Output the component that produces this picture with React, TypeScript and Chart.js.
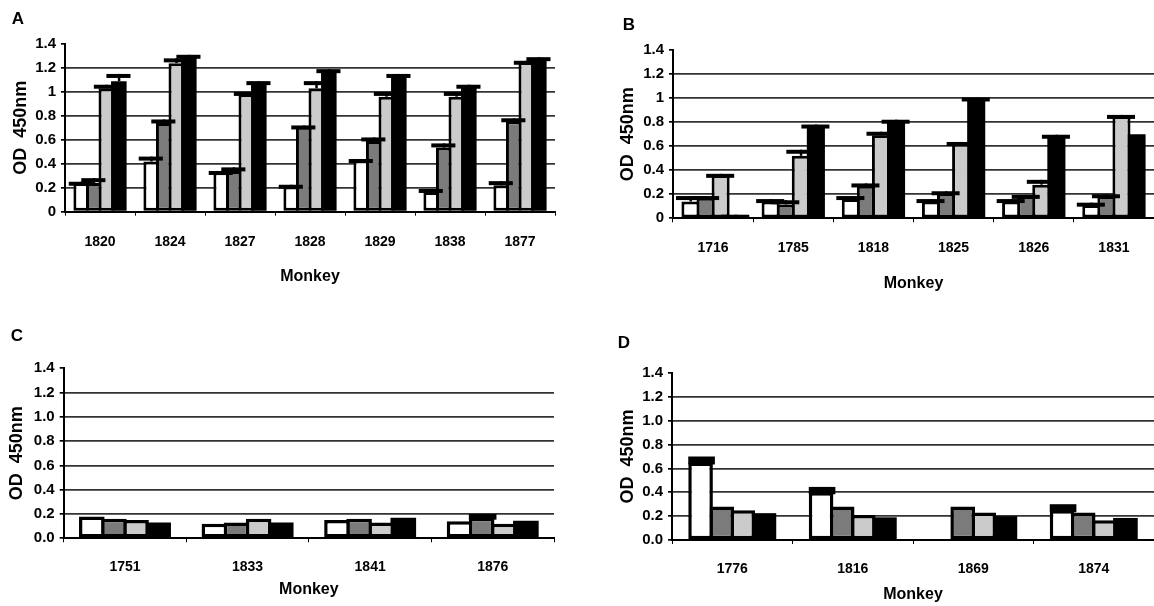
import React, { useEffect, useRef } from 'react';
import { Chart, registerables } from 'chart.js';

Chart.register(...registerables);

const FONT = "'Liberation Sans', Arial, Helvetica, sans-serif";
const SERIES_COLORS = ['#ffffff', '#7b7b7b', '#cbcbcb', '#000000'];
const SERIES_NAMES = ['Series 1', 'Series 2', 'Series 3', 'Series 4'];

// Y tick labels
const ticksAB = ['0', '0.2', '0.4', '0.6', '0.8', '1', '1.2', '1.4'];
const ticksCD = ['0.0', '0.2', '0.4', '0.6', '0.8', '1.0', '1.2', '1.4'];

// Panel A
const catsA = ['1820', '1824', '1827', '1828', '1829', '1838', '1877'];
const aWhite = [0.24, 0.42, 0.33, 0.21, 0.43, 0.165, 0.22];
const aDark = [0.24, 0.74, 0.34, 0.71, 0.59, 0.535, 0.755];
const aLight = [1.03, 1.24, 0.98, 1.03, 0.96, 0.96, 1.25];
const aBlack = [1.09, 1.29, 1.07, 1.18, 1.14, 1.05, 1.28];
const aWhiteErr = [0.01, 0.04, 0.01, 0.015, 0.01, 0.025, 0.035];
const aDarkErr = [0.04, 0.03, 0.03, 0.01, 0.03, 0.035, 0.025];
const aLightErr = [0.03, 0.04, 0.02, 0.06, 0.04, 0.04, 0.01];
const aBlackErr = [0.06, 0.02, 0.02, 0.01, 0.01, 0.01, 0.01];

// Panel B
const catsB = ['1716', '1785', '1818', '1825', '1826', '1831'];
const bWhite = [0.14, 0.14, 0.16, 0.14, 0.14, 0.11];
const bDark = [0.17, 0.115, 0.27, 0.21, 0.185, 0.185];
const bLight = [0.36, 0.52, 0.69, 0.62, 0.28, 0.85];
const bBlack = [0.02, 0.765, 0.81, 0.985, 0.68, 0.7];
const bWhiteErr = [0.045, 0.02, 0.025, 0.02, 0.02, 0.02];
const bDarkErr = [0.015, 0.035, 0.02, 0.015, 0.01, 0.015];
const bLightErr = [0.01, 0.05, 0.03, 0.015, 0.04, 0.01];
const bBlackErr = [0.01, 0.015, 0.01, 0.02, 0.015, 0];

// Panel C
const catsC = ['1751', '1833', '1841', '1876'];
const cWhite = [0.18, 0.12, 0.15, 0.14];
const cDark = [0.16, 0.13, 0.16, 0.17];
const cLight = [0.15, 0.16, 0.13, 0.12];
const cBlack = [0.13, 0.13, 0.17, 0.145];
const cWhiteErr = [0, 0, 0, 0];
const cDarkErr = [0, 0, 0, 0.03];
const cLightErr = [0, 0, 0, 0];
const cBlackErr = [0, 0, 0, 0];

// Panel D
const catsD = ['1776', '1816', '1869', '1874'];
const dWhite = [0.65, 0.4, null, 0.25];
const dDark = [0.28, 0.28, 0.28, 0.23];
const dLight = [0.25, 0.21, 0.23, 0.165];
const dBlack = [0.225, 0.19, 0.2, 0.185];
const dWhiteErr = [0.05, 0.045, 0, 0.05];
const dDarkErr = [0, 0, 0, 0];
const dLightErr = [0, 0, 0, 0];
const dBlackErr = [0, 0, 0, 0];

const errorPlugin = {
  id: 'errCaps',
  afterDatasetsDraw(chart: any, _args: any, opts: any) {
    const { ctx } = chart;
    const y = chart.scales.y;
    const style = opts && opts.style ? opts.style : 'tee';
    chart.data.datasets.forEach((ds: any, i: number) => {
      const errs = ds.errors;
      if (!errs) return;
      const meta = chart.getDatasetMeta(i);
      meta.data.forEach((bar: any, j: number) => {
        const v = ds.data[j];
        const e = errs[j];
        if (v == null || !e) return;
        const p = bar.getProps(['x', 'y', 'width'], true);
        const top = y.getPixelForValue(v + e);
        const barTop = p.y;
        const w = p.width;
        ctx.save();
        ctx.fillStyle = '#000';
        if (style === 'tee') {
          ctx.fillRect(p.x - 1, top, 2.5, Math.max(0, barTop - top));
          ctx.fillRect(p.x - 0.8 * w, top, 1.55 * w, 4);
        } else {
          ctx.fillRect(p.x - w / 2, top, w + 2, Math.max(0, barTop - top) + 2);
        }
        ctx.restore();
      });
    });
  },
};

type PanelCfg = {
  letter: string;
  letterX: number;
  letterY: number;
  left: number;
  top: number;
  width: number;
  height: number;
  cats: string[];
  series: (number | null)[][];
  errors: number[][];
  tickLabels: string[];
  padTop: number;
  padRight: number;
  yWidth: number;
  yTitlePad: number;
  xHeight: number;
  xTickPad: number;
  xTitlePadBottom: number;
  catWidth: number; // approx. pixel width of one category
  groupFrac: number; // fraction of category covered by the bar group
  borderW: number;
  errStyle: string;
};

const panels: PanelCfg[] = [
  {
    letter: 'A', letterX: 18, letterY: 18, left: 0, top: 0, width: 577, height: 300,
    cats: catsA, series: [aWhite, aDark, aLight, aBlack],
    errors: [aWhiteErr, aDarkErr, aLightErr, aBlackErr], tickLabels: ticksAB,
    padTop: 44, padRight: 22, yWidth: 65, yTitlePad: 10, xHeight: 88.3, xTickPad: 18,
    xTitlePadBottom: 13.7, catWidth: 70, groupFrac: 0.76, borderW: 3, errStyle: 'tee',
  },
  {
    letter: 'B', letterX: 629, letterY: 24, left: 577, top: 0, width: 577, height: 300,
    cats: catsB, series: [bWhite, bDark, bLight, bBlack],
    errors: [bWhiteErr, bDarkErr, bLightErr, bBlackErr], tickLabels: ticksAB,
    padTop: 50, padRight: 0, yWidth: 96, yTitlePad: 39.8, xHeight: 81.7, xTickPad: 17.6,
    xTitlePadBottom: 7.1, catWidth: 80, groupFrac: 0.79, borderW: 3, errStyle: 'tee',
  },
  {
    letter: 'C', letterX: 17, letterY: 335, left: 0, top: 300, width: 577, height: 306,
    cats: catsC, series: [cWhite, cDark, cLight, cBlack],
    errors: [cWhiteErr, cDarkErr, cLightErr, cBlackErr], tickLabels: ticksCD,
    padTop: 68.3, padRight: 23, yWidth: 63.7, yTitlePad: 5.9, xHeight: 67.7, xTickPad: 16,
    xTitlePadBottom: 6.4, catWidth: 122.6, groupFrac: 0.75, borderW: 3.5, errStyle: 'block',
  },
  {
    letter: 'D', letterX: 624, letterY: 342, left: 577, top: 300, width: 577, height: 306,
    cats: catsD, series: [dWhite, dDark, dLight, dBlack],
    errors: [dWhiteErr, dDarkErr, dLightErr, dBlackErr], tickLabels: ticksCD,
    padTop: 73, padRight: 0, yWidth: 95, yTitlePad: 40.2, xHeight: 66, xTickPad: 16.9,
    xTitlePadBottom: 1.4, catWidth: 120.5, groupFrac: 0.73, borderW: 3.5, errStyle: 'block',
  },
];

function Panel({ cfg }: { cfg: PanelCfg }) {
  const ref = useRef<HTMLCanvasElement | null>(null);
  useEffect(() => {
    if (!ref.current) return;
    // adjacent bars overlap by one border width so that separators are single lines
    const catPct = (cfg.groupFrac * cfg.catWidth - cfg.borderW) / cfg.catWidth;
    const slot = (catPct * cfg.catWidth) / 4;
    const barPct = 1 + cfg.borderW / slot;
    const chart = new Chart(ref.current, {
      type: 'bar',
      data: {
        labels: cfg.cats,
        datasets: cfg.series.map((s, i) => ({
          label: SERIES_NAMES[i],
          data: s,
          errors: cfg.errors[i],
          backgroundColor: SERIES_COLORS[i],
          borderColor: '#000',
          borderWidth: i === 3 ? 0 : cfg.borderW,
          borderSkipped: false,
          inflateAmount: 0,
          barPercentage: barPct,
          categoryPercentage: catPct,
        })) as any,
      },
      options: {
        responsive: false,
        animation: false,
        layout: { padding: { left: 0, right: cfg.padRight, top: cfg.padTop, bottom: 0 } },
        plugins: {
          legend: { display: false },
          tooltip: { enabled: false },
          title: { display: false },
          errCaps: { style: cfg.errStyle },
        } as any,
        scales: {
          x: {
            grid: { display: true, drawOnChartArea: false, drawTicks: true, tickLength: 4, color: '#000', offset: true },
            border: { display: true, color: '#000', width: 2 },
            ticks: { color: '#000', font: { family: FONT, size: 14, weight: 'bold' }, padding: cfg.xTickPad, maxRotation: 0 },
            title: {
              display: true, text: 'Monkey', color: '#000',
              font: { family: FONT, size: 16, weight: 'bold' },
              padding: { top: 0, bottom: cfg.xTitlePadBottom },
            },
            afterFit: (s: any) => { s.height = cfg.xHeight; },
          },
          y: {
            min: 0,
            max: 1.4,
            ticks: {
              stepSize: 0.2,
              color: '#000',
              padding: 5,
              font: { family: FONT, size: 15, weight: 'bold' },
              callback: (_v: any, i: number) => cfg.tickLabels[i],
            },
            grid: {
              color: (c: any) => (c.tick && (c.tick.value > 1.3 || c.tick.value < 0.1) ? 'rgba(0,0,0,0)' : '#333333'),
              lineWidth: 1.7,
              tickLength: 4,
              tickColor: '#000',
              drawTicks: true,
            },
            border: { display: true, color: '#000', width: 2 },
            title: {
              display: true, text: 'OD  450nm', color: '#000',
              font: { family: FONT, size: 18, weight: 'bold' },
              padding: { top: cfg.yTitlePad, bottom: 0 },
            },
            afterFit: (s: any) => { s.width = cfg.yWidth; },
          },
        } as any,
      },
      plugins: [errorPlugin as any],
    });
    return () => chart.destroy();
  }, [cfg]);
  return (
    <div style={{ position: 'absolute', left: cfg.left, top: cfg.top, width: cfg.width, height: cfg.height }}>
      <canvas ref={ref} width={cfg.width} height={cfg.height} style={{ display: 'block' }} />
    </div>
  );
}

export default function App() {
  return (
    <div style={{ position: 'fixed', left: 0, top: 0, width: 1154, height: 606, background: '#fff', overflow: 'hidden' }}>
      {panels.map((p) => (
        <Panel key={p.letter} cfg={p} />
      ))}
      {panels.map((p) => (
        <div
          key={'l' + p.letter}
          style={{
            position: 'absolute', left: p.letterX, top: p.letterY, transform: 'translate(-50%, -50%)',
            fontFamily: FONT, fontSize: 17, fontWeight: 'bold', lineHeight: 1, color: '#000',
          }}
        >
          {p.letter}
        </div>
      ))}
    </div>
  );
}
